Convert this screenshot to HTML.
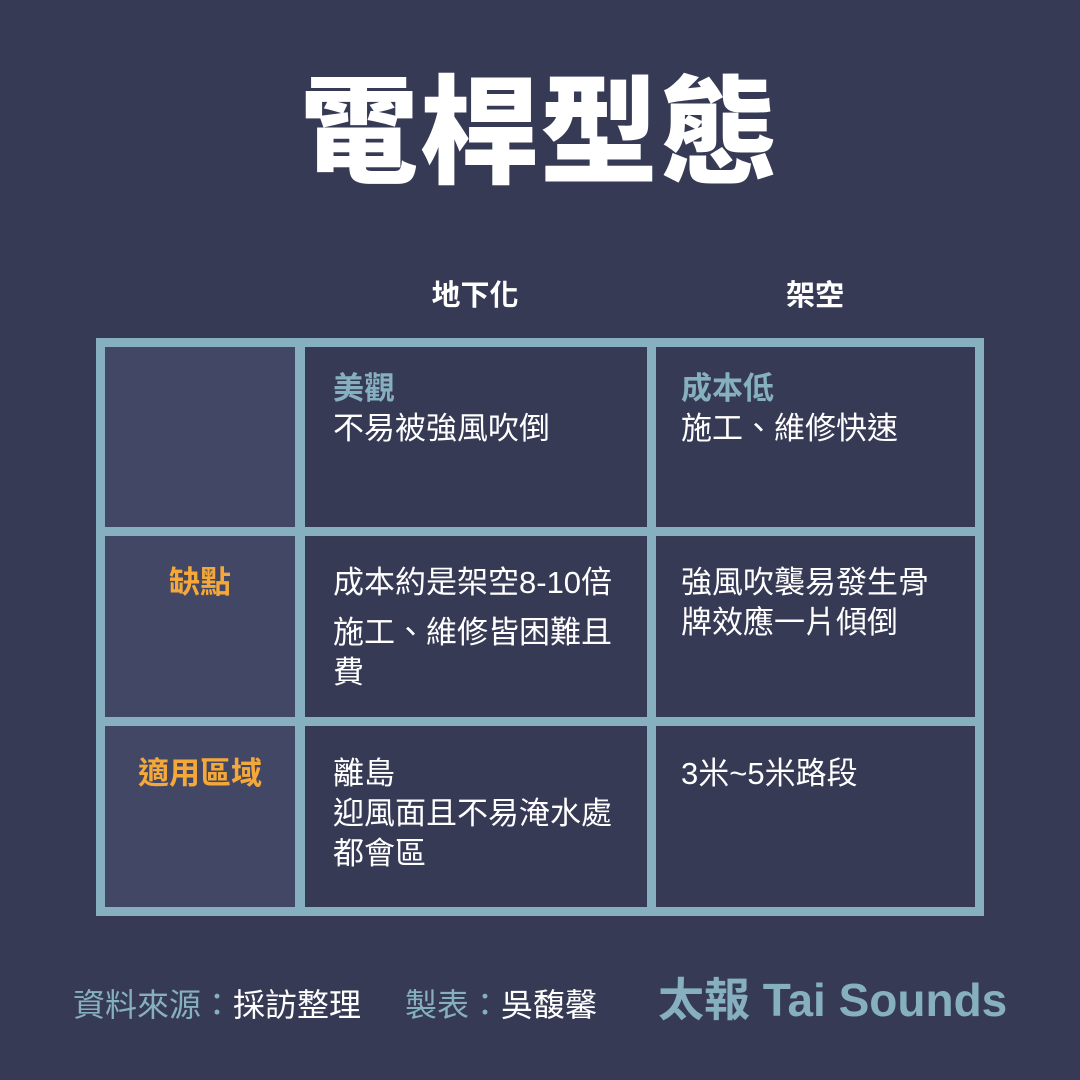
<!DOCTYPE html>
<html><head><meta charset="utf-8"><style>
body{margin:0;width:1080px;height:1080px;background:#363a55;position:relative;overflow:hidden;font-family:"Liberation Sans","Noto Sans CJK TC",sans-serif;color:#fff}
.a{position:absolute}
.t{left:0;width:1080px;top:64px;text-align:center;font-size:118px;font-weight:900;line-height:140px;letter-spacing:2px}
.h{font-size:29px;font-weight:bold;top:276px;line-height:40px;text-align:center}
.c{font-size:31px;line-height:40px;white-space:nowrap}
.g{color:#86b0bf;font-weight:bold}
.o{color:#f5a83a;font-weight:bold;text-align:center;width:190px;left:105px}
</style></head><body>
<div class="a t">電桿型態</div>
<div class="a h" style="left:375px;width:200px">地下化</div>
<div class="a h" style="left:715px;width:200px">架空</div>
<div class="a" style="left:96px;top:338px;width:888px;height:578px;background:#86b0bf"></div>
<div class="a" style="left:105px;top:347px;width:190px;height:180px;background:#424766"></div>
<div class="a" style="left:105px;top:536px;width:190px;height:181px;background:#424766"></div>
<div class="a" style="left:105px;top:726px;width:190px;height:181px;background:#424766"></div>
<div class="a" style="left:305px;top:347px;width:342px;height:180px;background:#363a55"></div>
<div class="a" style="left:305px;top:536px;width:342px;height:181px;background:#363a55"></div>
<div class="a" style="left:305px;top:726px;width:342px;height:181px;background:#363a55"></div>
<div class="a" style="left:656px;top:347px;width:319px;height:180px;background:#363a55"></div>
<div class="a" style="left:656px;top:536px;width:319px;height:181px;background:#363a55"></div>
<div class="a" style="left:656px;top:726px;width:319px;height:181px;background:#363a55"></div>
<div class="a c" style="left:333px;top:369px"><span class="g">美觀</span><br>不易被強風吹倒</div>
<div class="a c" style="left:681px;top:369px"><span class="g">成本低</span><br>施工、維修快速</div>
<div class="a c o" style="top:563px">缺點</div>
<div class="a c" style="left:333px;top:563px">成本約是架空8-10倍<div style="margin-top:10px">施工、維修皆困難且<br>費</div></div>
<div class="a c" style="left:681px;top:563px">強風吹襲易發生骨<br>牌效應一片傾倒</div>
<div class="a c o" style="top:754px">適用區域</div>
<div class="a c" style="left:333px;top:754px">離島<br>迎風面且不易淹水處<br>都會區</div>
<div class="a c" style="left:681px;top:754px">3米~5米路段</div>
<div class="a" style="left:73px;top:985px;font-size:32px;line-height:40px;white-space:nowrap"><span style="color:#86b0bf">資料來源：</span>採訪整理<span style="display:inline-block;width:44px"></span><span style="color:#86b0bf">製表：</span>吳馥馨</div>
<div class="a" style="left:658px;top:973px;font-size:46px;font-weight:bold;color:#86b0bf;line-height:54px;white-space:nowrap">太報 Tai Sounds</div>
</body></html>
